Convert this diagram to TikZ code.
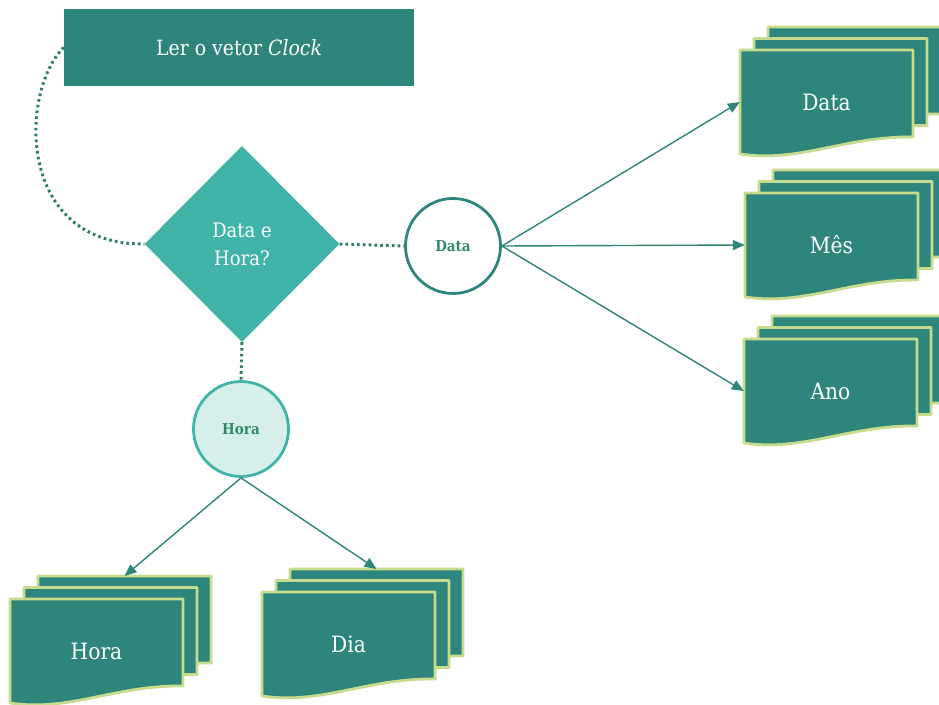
\documentclass[tikz,border=0pt]{standalone}
\usepackage{fontspec}
\setmainfont{DejaVu Serif}[FakeStretch=0.9]
\usetikzlibrary{positioning, arrows.meta, shapes.geometric}

\definecolor{tealescuro}{HTML}{2E857B}
\definecolor{tealclaro}{HTML}{41B4A9}
\definecolor{verdeclaro}{HTML}{C6DC8C}
\definecolor{pontilhado}{HTML}{2E7D6B}
\definecolor{verdetexto}{HTML}{2E8B65}
\definecolor{fundohora}{HTML}{D6EFEB}

\begin{document}
\begin{tikzpicture}[
        x=1pt, y=-1pt,
        >={Triangle[length=12pt, width=10pt]},
        caixa/.style={rectangle, fill=tealescuro, text=white, minimum width=350pt, minimum height=77pt, inner sep=0pt, font=\fontsize{21}{25}\selectfont},
        decisao/.style={diamond, fill=tealclaro, text=white, minimum width=195pt, minimum height=196pt, inner sep=0pt, align=center, font=\fontsize{20}{28}\selectfont},
        bolha/.style={circle, minimum size=95pt, inner sep=0pt, line width=2.8pt, text=verdetexto, font=\bfseries\fontsize{15}{17}\selectfont},
        pagina/.style={fill=tealescuro, draw=verdeclaro, line width=2.8pt, line join=round},
        rotulo/.style={text=white, minimum width=173pt, minimum height=100pt, inner sep=0pt, font=\fontsize{22.5}{26}\selectfont},
        pontos/.style={draw=pontilhado, line width=3pt, dash pattern=on 2.6pt off 3.2pt},
        seta/.style={->, draw=tealescuro, line width=1.4pt},
    ]

    % Fix the page size
    \path[fill=white, use as bounding box] (0,0) rectangle (939,704);

    % Draw the start box and the decision
    \node[caixa] (ler) at (239,47.5) {Ler o vetor \textit{Clock}};
    \node[decisao] (pergunta) at (242,244) {Data e\\Hora?};

    % Draw the two branch circles
    \node[bolha, draw=tealescuro, fill=white] (cdata) at (453,246) {Data};
    \node[bolha, draw=tealclaro, fill=fundohora] (chora) at (241,429) {Hora};

    % Draw the stacks of documents
    \foreach \nome/\px/\py/\texto in {data/740/50/Data, mes/745/193/Mês, ano/744/339/Ano, hora/10/599/Hora, dia/262/592/Dia} {
        \foreach \k in {2,1,0}
            \draw[pagina, shift={(\px+14*\k,\py-11.5*\k)}] (0,0) -- (173,0) -- (173,87)
                .. controls (105,86) and (60,113) .. (0,104) -- cycle;
        \node[rotulo] (doc-\nome) at (\px+86.5,\py+52) {\texto};
        \coordinate (doc-\nome-topo) at (\px+114.5,\py-23);
    }

    % Dotted links
    \draw[pontos] (ler.west) .. controls (20,90) and (15,245) .. (pergunta.west);
    \draw[pontos] (pergunta.east) -- (cdata.west);
    \draw[pontos] (pergunta.south) -- (chora.north);

    % Connect the circles with the documents
    \foreach \dest in {data, mes, ano}
        \draw[seta] (cdata.east) -- (doc-\dest.west);
    \foreach \dest in {hora, dia}
        \draw[seta] (chora.south) -- (doc-\dest-topo);
\end{tikzpicture}
\end{document}
